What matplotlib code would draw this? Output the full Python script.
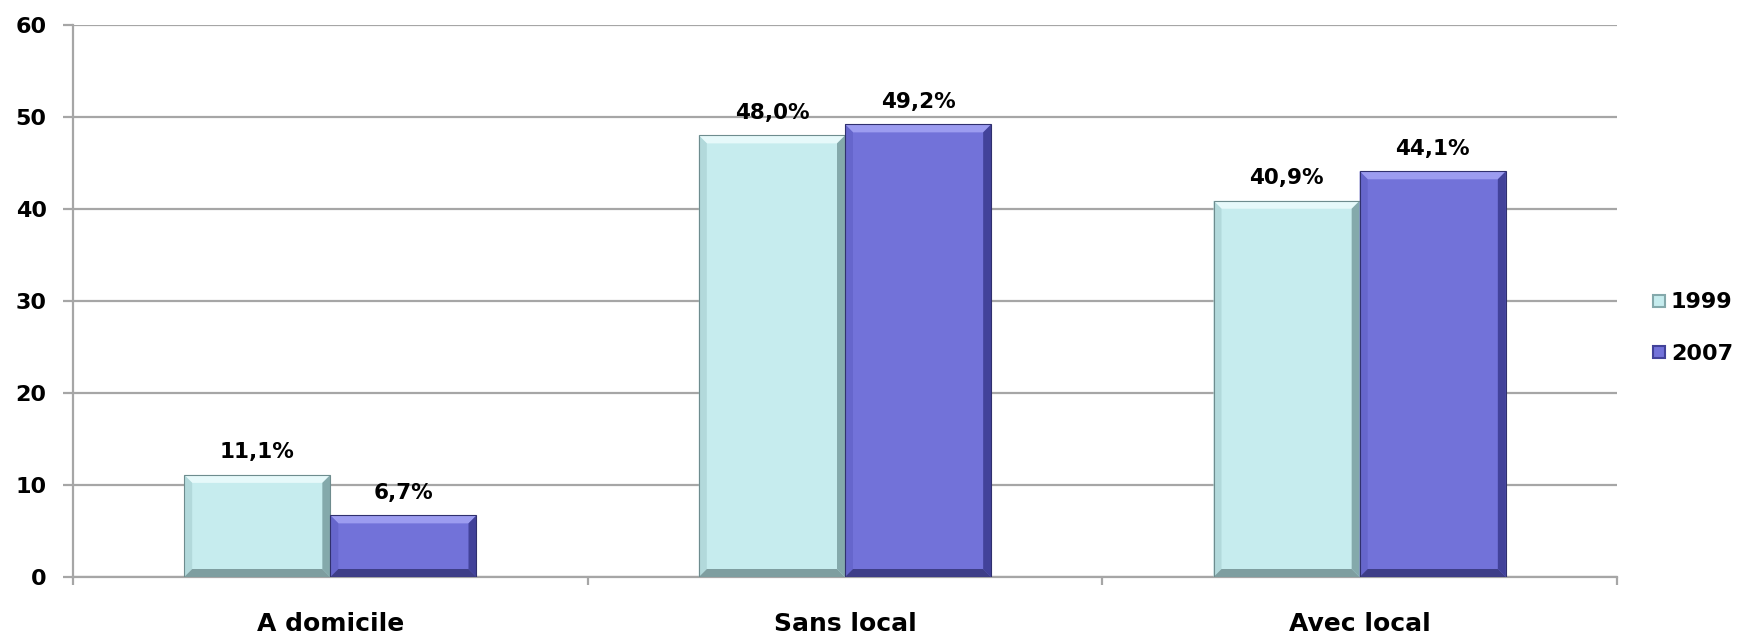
import matplotlib
matplotlib.use("Agg")
import matplotlib.pyplot as plt
from matplotlib.patches import Polygon, Rectangle
from matplotlib.lines import Line2D
import numpy as np

categories = ["A domicile", "Sans local", "Avec local"]
series_names = ["1999", "2007"]
values_1999 = [11.1, 48.0, 40.9]
values_2007 = [6.7, 49.2, 44.1]
value_labels_1999 = ["11,1%", "48,0%", "40,9%"]
value_labels_2007 = ["6,7%", "49,2%", "44,1%"]
yticks = [0, 10, 20, 30, 40, 50, 60]

plt.rcParams['font.family'] = ['DejaVu Sans']
plt.rcParams['font.weight'] = 'bold'

W, H = 1746, 637
fig = plt.figure(figsize=(W / 100, H / 100), dpi=100)
ax_l, ax_r, ax_b, ax_t = 73, 1617, 577, 25
ax = fig.add_axes([ax_l / W, 1 - ax_b / H, (ax_r - ax_l) / W, (ax_b - ax_t) / H])
ax.set_xlim(-0.5, 2.5)
ax.set_ylim(0, 60)

grid_c = "#A6A6A6"
for s in ["top", "right"]:
    ax.spines[s].set_visible(False)
ax.spines["left"].set_color(grid_c)
ax.spines["bottom"].set_color(grid_c)
ax.spines["left"].set_linewidth(1.6)
ax.spines["bottom"].set_linewidth(1.6)
ax.set_yticks(yticks)
ax.set_yticklabels([str(t) for t in yticks], fontsize=16, fontweight='bold')
ax.tick_params(axis='y', length=7, width=1.6, color=grid_c, pad=12)
ax.yaxis.grid(True, color=grid_c, linewidth=1.6)
ax.set_axisbelow(True)

x = np.arange(len(categories))
ax.set_xticks(x)
ax.set_xticklabels(categories, fontsize=18, fontweight='bold')
ax.tick_params(axis='x', which='major', length=0, pad=25)
ax.set_xticks([-0.5, 0.5, 1.5, 2.5], minor=True)
ax.tick_params(axis='x', which='minor', length=6, width=1.6, color=grid_c)

bw = 0.284
cols = {
    "1999": dict(face="#C6ECEE", top="#E6F9FA", left="#B2D9DB", right="#84A9AB", bottom="#7E9EA0", edge="#6E8C8E"),
    "2007": dict(face="#7272D9", top="#9C9CF0", left="#6666CC", right="#42429A", bottom="#3E3E88", edge="#30306E"),
}

px_x = (ax_r - ax_l) / 3.0   # pixels per x unit
px_y = (ax_b - ax_t) / 60.0  # pixels per y unit
bev = 8

def bevel(x0, w, h, c):
    dx = bev / px_x
    dy = min(bev / px_y, h / 2.5)
    x1 = x0 + w
    ax.add_patch(Rectangle((x0, 0), w, h, facecolor=c["face"], edgecolor='none', zorder=3))
    polys = [
        ([(x0, h), (x1, h), (x1 - dx, h - dy), (x0 + dx, h - dy)], c["top"]),
        ([(x0, 0), (x0 + dx, dy), (x0 + dx, h - dy), (x0, h)], c["left"]),
        ([(x1, 0), (x1, h), (x1 - dx, h - dy), (x1 - dx, dy)], c["right"]),
        ([(x0, 0), (x1, 0), (x1 - dx, dy), (x0 + dx, dy)], c["bottom"]),
    ]
    for pts, col in polys:
        ax.add_patch(Polygon(pts, closed=True, facecolor=col, edgecolor='none', zorder=4))
    ax.add_patch(Rectangle((x0, 0), w, h, facecolor='none', edgecolor=c["edge"], linewidth=0.8, zorder=5))

bars1 = ax.bar(x - bw / 2, values_1999, bw, color='none', label=series_names[0])
bars2 = ax.bar(x + bw / 2, values_2007, bw, color='none', label=series_names[1])
for bars, name in [(bars1, "1999"), (bars2, "2007")]:
    for b in bars:
        bevel(b.get_x(), b.get_width(), b.get_height(), cols[name])

for bars, labs in [(bars1, value_labels_1999), (bars2, value_labels_2007)]:
    for b, lab in zip(bars, labs):
        ax.annotate(lab, (b.get_x() + b.get_width() / 2, b.get_height()),
                    xytext=(0, 9), textcoords='offset points', ha='center', va='bottom',
                    fontsize=15.5, fontweight='bold', zorder=6)

handles = [Line2D([0], [0], marker='s', linestyle='none', markersize=9,
                  markerfacecolor=cols[n]["face"], markeredgecolor=cols[n]["right"], markeredgewidth=1.5)
           for n in series_names]
fig.legend(handles, series_names, loc='center left', bbox_to_anchor=(1652 / W, 1 - 328 / H),
           frameon=False, handlelength=0.6, handletextpad=0.25, labelspacing=1.4,
           borderpad=0, borderaxespad=0, prop=dict(weight='bold', size=16))

fig.savefig("out.png", dpi=100)
